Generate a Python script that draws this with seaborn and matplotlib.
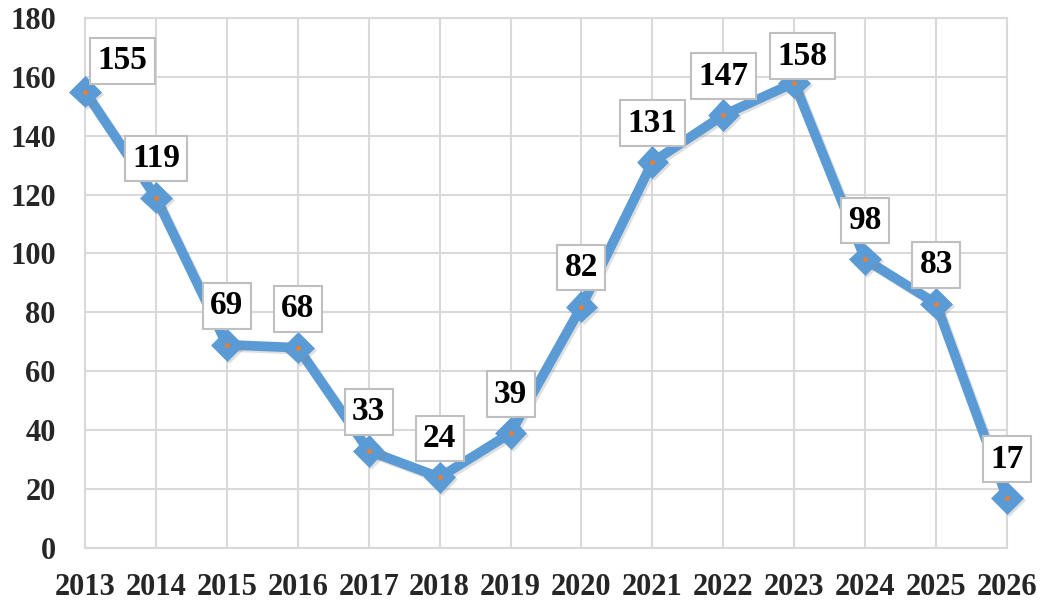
"""
年次推移の折れ線グラフ（データラベル付き）
"""
import matplotlib
matplotlib.use('Agg')
import matplotlib.pyplot as plt
import matplotlib.patheffects as pe
import pandas as pd
import seaborn as sns

# データ
years = ['2013', '2014', '2015', '2016', '2017', '2018', '2019',
         '2020', '2021', '2022', '2023', '2024', '2025', '2026']
values = [155, 119, 69, 68, 33, 24, 39, 82, 131, 147, 158, 98, 83, 17]
y_ticks = [0, 20, 40, 60, 80, 100, 120, 140, 160, 180]

# ラベルの位置調整（ポイント単位）
label_offsets = {'2013': (27, 22), '2023': (6, 19)}
default_offset = (0, 28)

sns.set_theme(style="white")
plt.rcParams['font.family'] = ['Liberation Serif', 'DejaVu Serif']
plt.rcParams['font.weight'] = 'bold'

line_color = '#5B9BD5'
grid_color = '#d9d9d9'

df = pd.DataFrame({'year': years, 'value': values})
df['pos'] = range(len(df))

fig = plt.figure(figsize=(10.43, 6.02), dpi=100)
ax = fig.add_axes([0.0815, 0.0897, 0.884, 0.8806])

shadow = [pe.SimpleLineShadow(offset=(1.5, -1.5), shadow_color='gray', alpha=0.25), pe.Normal()]
sns.lineplot(data=df, x='pos', y='value', ax=ax, color=line_color, linewidth=7,
             marker='D', markersize=13, markeredgewidth=3.5, markeredgecolor=line_color,
             markerfacecolor=line_color, solid_joinstyle='round', path_effects=shadow,
             zorder=3)
for ln in ax.lines:
    ln.set_clip_on(False)
# 中央の小さなオレンジの点
ax.plot(df['pos'], df['value'], linestyle='none', marker='o', markersize=2.5,
        color='#ED7D31', zorder=4, clip_on=False)

for pos, year, val in zip(df['pos'], years, values):
    dx, dy = label_offsets.get(year, default_offset)
    ax.annotate(str(val), xy=(pos, val), xytext=(dx, dy), textcoords='offset points',
                ha='center', va='center', fontsize=24, fontweight='bold', color='black',
                bbox=dict(boxstyle='square,pad=0.22', facecolor='white',
                          edgecolor='#bfbfbf', linewidth=1.5),
                zorder=5, annotation_clip=False)

ax.set_xlim(0, len(years) - 1)
ax.set_ylim(0, 180)
ax.set_xticks(df['pos'])
ax.set_xticklabels(years)
ax.set_yticks(y_ticks)
ax.tick_params(axis='x', length=0, pad=18, labelsize=22)
ax.tick_params(axis='y', length=0, pad=21, labelsize=22)
for lbl in ax.get_xticklabels() + ax.get_yticklabels():
    lbl.set_fontweight('bold')

ax.grid(True, color=grid_color, linewidth=1.5)
ax.set_axisbelow(True)
for sp in ax.spines.values():
    sp.set_color(grid_color)
    sp.set_linewidth(1.5)
ax.set_xlabel('')
ax.set_ylabel('')

fig.savefig('out.png', dpi=100)
plt.close(fig)
